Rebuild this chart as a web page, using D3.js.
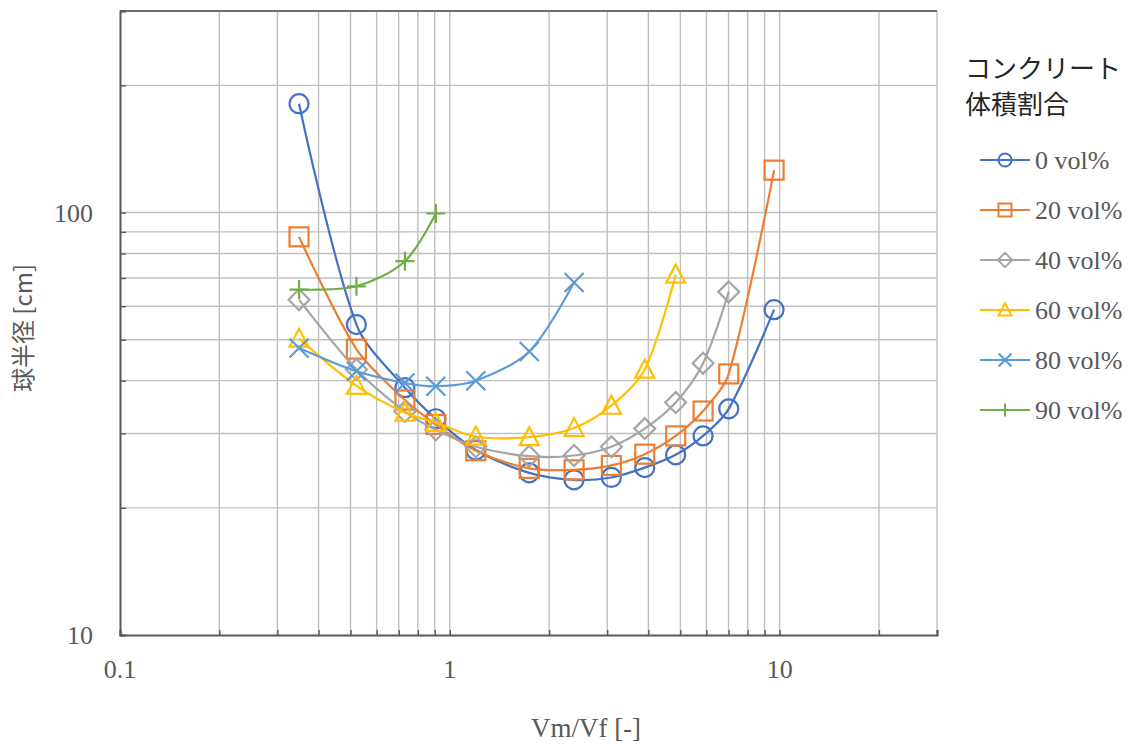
<!DOCTYPE html>
<html>
<head>
<meta charset="utf-8">
<script src="https://cdn.jsdelivr.net/npm/d3@7"></script>
<style>
  html, body { margin: 0; padding: 0; background: #fff; }
  svg { display: block; }
</style>
</head>
<body>
<svg id="chart" width="1133" height="744"></svg>
<script>
// Volume ratio Vm/Vf at each measured point
const ratios = [0.349, 0.521, 0.731, 0.907, 1.199, 1.741, 2.381, 3.089, 3.90, 4.84, 5.86, 7.01, 9.62];

// Sphere radius [cm] for each concrete volume fraction
const r0  = [181, 54.3, 38.5, 32.5, 27.4, 24.2, 23.3, 23.6, 24.9, 26.7, 29.6, 34.3, 58.9];
const r20 = [87.6, 47.5, 36.0, 31.5, 27.3, 24.8, 24.6, 25.2, 26.8, 29.6, 33.9, 41.5, 126];
const r40 = [62.2, 42.5, 33.8, 30.6, 27.9, 26.5, 26.6, 27.9, 30.8, 35.5, 44.0, 64.9];
const r60 = [50.3, 38.9, 33.6, 31.8, 29.5, 29.4, 30.9, 34.9, 42.5, 71.3];
const r80 = [47.8, 42.1, 39.5, 38.8, 40.0, 46.9, 68.3];
const r90 = [65.7, 66.9, 76.7, 99.5];

const seriesNames = ["0 vol%", "20 vol%", "40 vol%", "60 vol%", "80 vol%", "90 vol%"];
const seriesValues = [r0, r20, r40, r60, r80, r90];
const seriesColors = ["#4472C4", "#ED7D31", "#A5A5A5", "#FFC000", "#5B9BD5", "#70AD47"];
const seriesMarkers = ["circle", "square", "diamond", "triangle", "cross", "plus"];

const xTickLabels = ["0.1", "1", "10"];
const yTickLabels = ["10", "100"];
const legendTitle = ["コンクリート", "体積割合"];
const xTitle = "Vm/Vf [-]";
const yTitle = "球半径 [cm]";

const svg = d3.select("#chart");
const plot = { left: 120, right: 937, top: 11, bottom: 635 };

const x = d3.scaleLog().domain([0.1, 30]).range([plot.left, plot.right]);
const y = d3.scaleLog().domain([10, 300]).range([plot.bottom, plot.top]);

const axisColor = "#595959";
const gridColor = "#BFBFBF";
const latinFont = "'Liberation Serif', 'Times New Roman', serif";
const cjkFont = "'Noto Sans CJK JP', 'Noto Sans', sans-serif";

// grid values at 1..9 × each decade
function logGrid(lo, hi) {
  const out = [];
  for (let d = lo; d < hi * 1.0001; d *= 10) {
    for (let m = 1; m <= 9; m++) {
      const v = d * m;
      if (v >= lo * 0.9999 && v <= hi * 1.0001) out.push(v);
    }
  }
  return out;
}
const xGrid = logGrid(0.1, 30);
const yGrid = logGrid(10, 300);

const grid = svg.append("g");
grid.selectAll("line.gx").data(xGrid.filter(v => v > 0.1)).join("line")
  .attr("x1", d => x(d)).attr("x2", d => x(d))
  .attr("y1", plot.top).attr("y2", plot.bottom)
  .attr("stroke", gridColor).attr("stroke-width", 1.4);
grid.selectAll("line.gy").data(yGrid.filter(v => v > 10 && v < 300)).join("line")
  .attr("y1", d => y(d)).attr("y2", d => y(d))
  .attr("x1", plot.left).attr("x2", plot.right)
  .attr("stroke", gridColor).attr("stroke-width", 1.4);
// top frame line
svg.append("line").attr("x1", plot.left).attr("x2", plot.right)
  .attr("y1", y(300)).attr("y2", y(300))
  .attr("stroke", "#6E6E6E").attr("stroke-width", 1.8);

// axes with small inward ticks at every grid value
const xAxis = d3.axisBottom(x).tickValues(xGrid).tickSize(-5).tickFormat("");
const yAxis = d3.axisLeft(y).tickValues(yGrid).tickSize(-6).tickFormat("");
const gx = svg.append("g").attr("transform", `translate(0,${plot.bottom})`).call(xAxis);
const gy = svg.append("g").attr("transform", `translate(${plot.left},0)`).call(yAxis);
[gx, gy].forEach(g => {
  g.select(".domain").attr("stroke", axisColor).attr("stroke-width", 2);
  g.selectAll(".tick line").attr("stroke", axisColor).attr("stroke-width", 1.4);
});

// tick labels
svg.append("g").selectAll("text").data(xTickLabels).join("text")
  .attr("x", d => x(+d)).attr("y", 678)
  .attr("text-anchor", "middle")
  .attr("font-family", latinFont).attr("font-size", 26).attr("fill", axisColor)
  .text(d => d);
svg.append("g").selectAll("text").data(yTickLabels).join("text")
  .attr("x", 93).attr("y", d => y(+d) + 9)
  .attr("text-anchor", "end")
  .attr("font-family", latinFont).attr("font-size", 26).attr("fill", axisColor)
  .text(d => d);

// axis titles
svg.append("text").attr("x", 586).attr("y", 737).attr("text-anchor", "middle")
  .attr("font-family", latinFont).attr("font-size", 27).attr("fill", axisColor)
  .text(xTitle);
svg.append("text")
  .attr("transform", "translate(32,328) rotate(-90)")
  .attr("text-anchor", "middle")
  .attr("font-family", cjkFont).attr("font-size", 24).attr("fill", axisColor)
  .text(yTitle);

// marker shapes
function drawMarker(g, type, cx, cy, s, color, sw) {
  const h = s / 2;
  if (type === "circle") {
    g.append("circle").attr("cx", cx).attr("cy", cy).attr("r", h)
      .attr("fill", "none").attr("stroke", color).attr("stroke-width", sw);
  } else if (type === "square") {
    g.append("rect").attr("x", cx - h).attr("y", cy - h).attr("width", s).attr("height", s)
      .attr("fill", "none").attr("stroke", color).attr("stroke-width", sw);
  } else if (type === "diamond") {
    const k = h * 1.1;
    g.append("path").attr("d", `M${cx},${cy - k}L${cx + k},${cy}L${cx},${cy + k}L${cx - k},${cy}Z`)
      .attr("fill", "none").attr("stroke", color).attr("stroke-width", sw);
  } else if (type === "triangle") {
    g.append("path").attr("d", `M${cx},${cy - h * 1.05}L${cx + h},${cy + h * 0.85}L${cx - h},${cy + h * 0.85}Z`)
      .attr("fill", "none").attr("stroke", color).attr("stroke-width", sw);
  } else if (type === "cross") {
    g.append("path").attr("d", `M${cx - h},${cy - h}L${cx + h},${cy + h}M${cx - h},${cy + h}L${cx + h},${cy - h}`)
      .attr("fill", "none").attr("stroke", color).attr("stroke-width", sw);
  } else if (type === "plus") {
    g.append("path").attr("d", `M${cx - h},${cy}L${cx + h},${cy}M${cx},${cy - h}L${cx},${cy + h}`)
      .attr("fill", "none").attr("stroke", color).attr("stroke-width", sw);
  }
}

// smoothed line: Bezier handles follow the neighbour chord, sized by each segment
function smoothPath(pts, k) {
  const p = d3.path();
  const n = pts.length;
  const tangent = i => {
    const a = pts[Math.max(i - 1, 0)], b = pts[Math.min(i + 1, n - 1)];
    const dx = b[0] - a[0], dy = b[1] - a[1];
    const len = Math.hypot(dx, dy) || 1;
    return [dx / len, dy / len];
  };
  p.moveTo(pts[0][0], pts[0][1]);
  for (let i = 0; i < n - 1; i++) {
    const a = pts[i], b = pts[i + 1];
    const seg = Math.hypot(b[0] - a[0], b[1] - a[1]);
    const ta = tangent(i), tb = tangent(i + 1);
    const ha = (i === 0 ? 0 : k) * seg, hb = (i + 1 === n - 1 ? 0 : k) * seg;
    p.bezierCurveTo(a[0] + ta[0] * ha, a[1] + ta[1] * ha,
                    b[0] - tb[0] * hb, b[1] - tb[1] * hb,
                    b[0], b[1]);
  }
  return p.toString();
}

// series lines and markers
const series = svg.append("g");
seriesValues.forEach((vals, i) => {
  const pts = vals.map((v, j) => [x(ratios[j]), y(v)]);
  const g = series.append("g");
  g.append("path").attr("d", smoothPath(pts, 0.3))
    .attr("fill", "none").attr("stroke", seriesColors[i]).attr("stroke-width", 2.2);
  pts.forEach(p => drawMarker(g, seriesMarkers[i], p[0], p[1], 19, seriesColors[i], 2.2));
});

// legend
const lg = svg.append("g");
legendTitle.forEach((t, i) => {
  lg.append("text").attr("x", 965).attr("y", 78 + i * 36)
    .attr("font-family", cjkFont).attr("font-size", 26).attr("fill", "#262626")
    .text(t);
});
seriesNames.forEach((name, i) => {
  const cy = 160 + i * 50;
  lg.append("line").attr("x1", 980).attr("x2", 1030).attr("y1", cy).attr("y2", cy)
    .attr("stroke", seriesColors[i]).attr("stroke-width", 2.2);
  drawMarker(lg, seriesMarkers[i], 1005, cy, 13, seriesColors[i], 2);
  lg.append("text").attr("x", 1035).attr("y", cy + 9)
    .attr("font-family", latinFont).attr("font-size", 26).attr("fill", axisColor)
    .text(name);
});
</script>
</body>
</html>
